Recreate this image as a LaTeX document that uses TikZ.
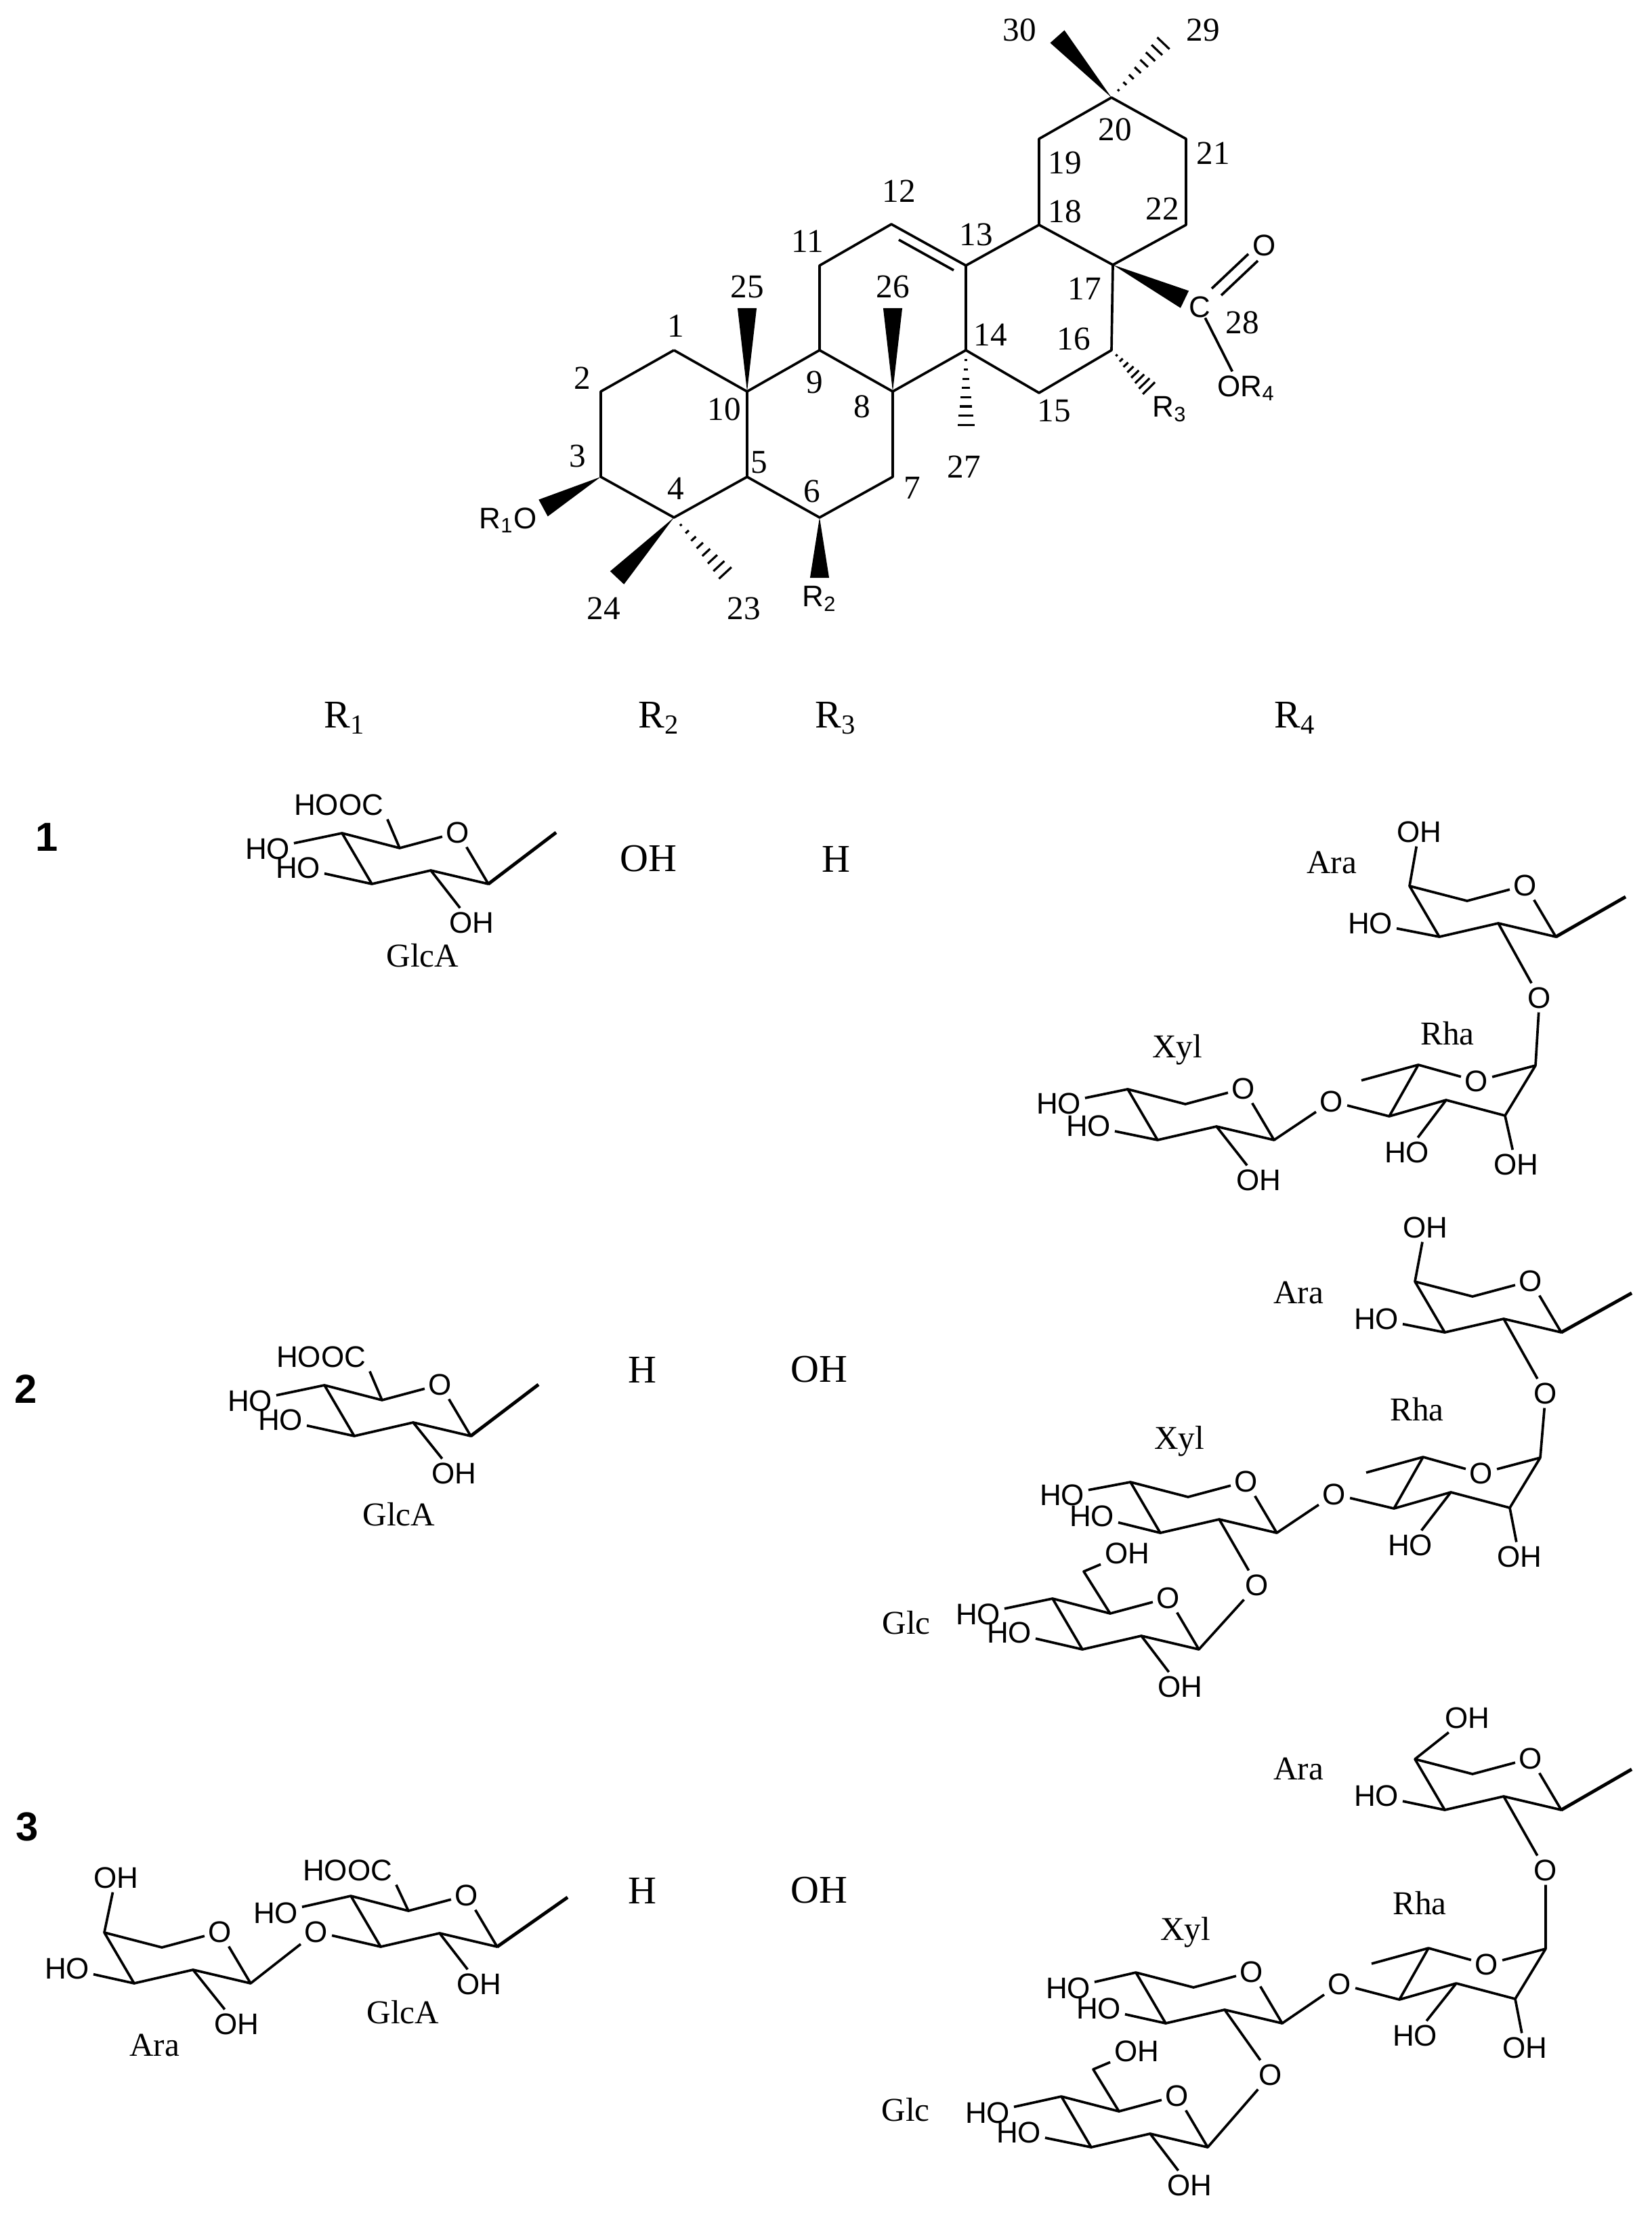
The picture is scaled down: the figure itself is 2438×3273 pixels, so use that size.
\documentclass[tikz,border=0pt]{standalone}
\usepackage{fontspec}
\setmainfont{Liberation Serif}
\newfontfamily\sansfam{Liberation Sans}
\usetikzlibrary{calc}
\tikzset{
	bond/.style = {line width=1.05pt, line join=round},
	tailbond/.style = {line width=1.4pt, line join=round},
	numlab/.style = {font=\fontsize{14}{16}\selectfont, inner sep=0pt},
	chemlab/.style = {font=\sansfam\fontsize{12.5}{14}\selectfont, inner sep=1.5pt},
	sugarlab/.style = {font=\fontsize{14}{16}\selectfont, inner sep=0pt},
	headlab/.style = {font=\fontsize{16.5}{18}\selectfont, inner sep=0pt},
	rowlab/.style = {font=\sansfam\bfseries\fontsize{17}{19}\selectfont, inner sep=0pt},
}
% solid and hashed stereo bonds
\newcommand{\wedgebond}[2]{\fill[black] (#1) -- ($(#2)!4pt!90:(#1)$) -- ($(#2)!4pt!-90:(#1)$) -- cycle;}
\newcommand{\hashbond}[2]{\foreach \t in {0.12,0.23,...,1.0}
	\draw[line width=0.9pt] ($(#1)!\t!(#2)!\t*4pt!90:(#2)$) -- ($(#1)!\t!(#2)!\t*4pt!-90:(#2)$);}
% chair rings, #2,#3 = anomeric carbon
\newcommand{\sugarring}[3]{
	\coordinate (#1c1) at (#2,#3);
	\coordinate (#1c2) at (#2-85,#3-20);
	\coordinate (#1c3) at (#2-172,#3);
	\coordinate (#1c4) at (#2-216,#3-75);
	\coordinate (#1c5) at (#2-131,#3-53);
	\node[chemlab] (#1o) at (#2-45,#3-76) {O};
	\draw[bond] (#1o) -- (#1c1) -- (#1c2) -- (#1c3) -- (#1c4) -- (#1c5) -- (#1o);
}
\newcommand{\rhamring}[3]{
	\coordinate (#1c1) at (#2,#3);
	\coordinate (#1c2) at (#2-45,#3+74);
	\coordinate (#1c3) at (#2-132,#3+51);
	\coordinate (#1c4) at (#2-216,#3+75);
	\coordinate (#1c5) at (#2-173,#3-1);
	\coordinate (#1me) at (#2-257,#3+22);
	\node[chemlab] (#1o) at (#2-87,#3+23) {O};
	\draw[bond] (#1o) -- (#1c1) -- (#1c2) -- (#1c3) -- (#1c4) -- (#1c5) -- (#1o);
	\draw[bond] (#1c5) -- (#1me);
}

\begin{document}
\begin{tikzpicture}[x=0.01cm, y=-0.01cm]
	\useasboundingbox (0,0) rectangle (2438,3273);
	%%%	Aglycone
	\foreach \n/\x/\y in {1/995/517, 2/887/578, 3/887/704, 4/995/764, 5/1103/704, 6/1210/764, 7/1318/704,
		8/1318/578, 9/1210/517, 10/1103/578, 11/1210/392, 12/1316/331, 13/1426/392, 14/1426/517,
		15/1534/580, 16/1641/517, 17/1643/391, 18/1534/332, 19/1534/205, 20/1641/144, 21/1751/205, 22/1751/332}
	\coordinate (c\n) at (\x,\y);
	\draw[bond] (c1) -- (c2) -- (c3) -- (c4) -- (c5) -- (c10) -- (c1);
	\draw[bond] (c5) -- (c6) -- (c7) -- (c8) -- (c9) -- (c10);
	\draw[bond] (c9) -- (c11) -- (c12) -- (c13) -- (c14) -- (c8);
	\draw[bond] (c14) -- (c15) -- (c16) -- (c17) -- (c18) -- (c13);
	\draw[bond] (c18) -- (c19) -- (c20) -- (c21) -- (c22) -- (c17);
	\coordinate (d12) at (1327,354);
	\coordinate (d13) at (1408,399);
	\draw[bond] (d12) -- (d13);
	%%%	Stereo bonds
	\coordinate (m30) at (1561,54);
	\coordinate (m29) at (1727,54);
	\coordinate (m25) at (1103,455);
	\coordinate (m26) at (1318,455);
	\coordinate (m27) at (1426,641);
	\coordinate (m24) at (911,853);
	\coordinate (m23) at (1080,856);
	\coordinate (mr2) at (1210,853);
	\coordinate (mr1) at (802,750);
	\coordinate (mr3) at (1703,580);
	\coordinate (mc28) at (1749,442);
	\wedgebond{c20}{m30}
	\hashbond{c20}{m29}
	\wedgebond{c10}{m25}
	\wedgebond{c8}{m26}
	\hashbond{c14}{m27}
	\wedgebond{c4}{m24}
	\hashbond{c4}{m23}
	\wedgebond{c6}{mr2}
	\wedgebond{c3}{mr1}
	\hashbond{c16}{mr3}
	\wedgebond{c17}{mc28}
	%%%	Carboxyl and R groups
	\node[chemlab, inner sep=0pt] (c28) at (1771,453) {C};
	\node[chemlab] (o28) at (1867,362) {O};
	\node[chemlab] (or4) at (1840,573) {OR\textsubscript{4}};
	\node[chemlab] (r3) at (1727,604) {R\textsubscript{3}};
	\node[chemlab] (r2) at (1210,884) {R\textsubscript{2}};
	\node[chemlab] (r1o) at (750,768) {R\textsubscript{1}O};
	\coordinate (e1a) at (1789,426);
	\coordinate (e1b) at (1843,375);
	\coordinate (e2a) at (1803,436);
	\coordinate (e2b) at (1857,385);
	\draw[bond] (e1a) -- (e1b);
	\draw[bond] (e2a) -- (e2b);
	\draw[bond] (c28) -- (or4.130);
	%%%	Numbering
	\foreach \n/\x/\y in {30/1505/44, 29/1776/44, 20/1646/191, 19/1572/240, 21/1791/226, 22/1716/308, 18/1572/312,
		12/1327/282, 11/1192/356, 13/1441/346, 17/1601/426, 25/1103/423, 26/1318/423, 28/1834/476, 14/1462/494,
		16/1585/500, 1/998/481, 2/860/558, 9/1203/564, 8/1273/600, 10/1069/604, 15/1556/606, 3/853/673, 5/1121/683,
		27/1423/689, 4/998/721, 6/1199/725, 7/1347/720, 24/891/898, 23/1098/898}
	\node[numlab] (n\n) at (\x,\y) {\n};
	%%%	Table heads
	\node[headlab] (h1) at (509,1060) {R\textsubscript{1}};
	\node[headlab] (h2) at (973,1060) {R\textsubscript{2}};
	\node[headlab] (h3) at (1234,1060) {R\textsubscript{3}};
	\node[headlab] (h4) at (1912,1060) {R\textsubscript{4}};
	\node[rowlab] (row1) at (69,1236) {1};
	\node[rowlab] (row2) at (38,2051) {2};
	\node[rowlab] (row3) at (40,2697) {3};
	\node[headlab] (r2a) at (957,1268) {OH};
	\node[headlab] (r3a) at (1234,1268) {H};
	\node[headlab] (r2b) at (948,2022) {H};
	\node[headlab] (r3b) at (1209,2022) {OH};
	\node[headlab] (r2c) at (948,2791) {H};
	\node[headlab] (r3c) at (1209,2791) {OH};
	%%%	Compound 1, R1
	\sugarring{ga}{721}{1305}
	\coordinate (gatail) at (821,1229);
	\draw[tailbond] (gac1) -- (gatail);
	\node[chemlab] (gacooh) at (500,1188) {HOOC};
	\node[chemlab] (gaho) at (395,1253) {HO};
	\node[chemlab] (gahob) at (440,1281) {HO};
	\node[chemlab] (gaoh) at (696,1362) {OH};
	\node[sugarlab] (ganame) at (624,1411) {GlcA};
	\draw[bond] (gac5) -- (gacooh.south east);
	\draw[bond] (gac4) -- (gaho);
	\draw[bond] (gac3) -- (gahob);
	\draw[bond] (gac2) -- (gaoh);
	%%%	Compound 2, R1
	\sugarring{gb}{695}{2120}
	\coordinate (gbtail) at (795,2044);
	\draw[tailbond] (gbc1) -- (gbtail);
	\node[chemlab] (gbcooh) at (474,2003) {HOOC};
	\node[chemlab] (gbho) at (369,2068) {HO};
	\node[chemlab] (gbhob) at (414,2096) {HO};
	\node[chemlab] (gboh) at (670,2175) {OH};
	\node[sugarlab] (gbname) at (589,2236) {GlcA};
	\draw[bond] (gbc5) -- (gbcooh.south east);
	\draw[bond] (gbc4) -- (gbho);
	\draw[bond] (gbc3) -- (gbhob);
	\draw[bond] (gbc2) -- (gboh);
	%%%	Compound 3, R1
	\sugarring{gc}{734}{2874}
	\sugarring{ac}{370}{2928}
	\coordinate (gctail) at (838,2801);
	\draw[tailbond] (gcc1) -- (gctail);
	\node[chemlab] (gccooh) at (513,2761) {HOOC};
	\node[chemlab] (gcho) at (407,2824) {HO};
	\node[chemlab] (gclink) at (467,2852) {O};
	\node[chemlab] (gcoh) at (707,2929) {OH};
	\node[sugarlab] (gcname) at (595,2971) {GlcA};
	\node[chemlab] (acoh) at (171,2772) {OH};
	\node[chemlab] (acho) at (99,2906) {HO};
	\node[chemlab] (acohb) at (349,2988) {OH};
	\node[sugarlab] (acname) at (228,3019) {Ara};
	\draw[bond] (gcc5) -- (gccooh.south east);
	\draw[bond] (gcc4) -- (gcho);
	\draw[bond] (gcc3) -- (gclink) -- (acc1);
	\draw[bond] (gcc2) -- (gcoh);
	\draw[bond] (acc4) -- (acoh);
	\draw[bond] (acc3) -- (acho);
	\draw[bond] (acc2) -- (acohb);
	%%%	Compound 1, R4
	\sugarring{ara}{2297}{1383}
	\rhamring{rha}{2267}{1573}
	\sugarring{xyl}{1881}{1683}
	\coordinate (aratail) at (2400,1324);
	\draw[tailbond] (arac1) -- (aratail);
	\node[chemlab] (araoh) at (2095,1228) {OH};
	\node[chemlab] (araho) at (2023,1363) {HO};
	\node[chemlab] (aralink) at (2273,1473) {O};
	\node[chemlab] (rhaho) at (2077,1701) {HO};
	\node[chemlab] (rhaoh) at (2238,1719) {OH};
	\node[chemlab] (rhalink) at (1966,1626) {O};
	\node[chemlab] (xylho) at (1563,1629) {HO};
	\node[chemlab] (xylhob) at (1607,1662) {HO};
	\node[chemlab] (xyloh) at (1858,1742) {OH};
	\node[sugarlab] (araname) at (1966,1273) {Ara};
	\node[sugarlab] (rhaname) at (2137,1526) {Rha};
	\node[sugarlab] (xylname) at (1738,1550) {Xyl};
	\draw[bond] (arac4) -- (araoh);
	\draw[bond] (arac3) -- (araho);
	\draw[bond] (arac2) -- (aralink) -- (rhac1);
	\draw[bond] (rhac3) -- (rhaho);
	\draw[bond] (rhac2) -- (rhaoh);
	\draw[bond] (rhac4) -- (rhalink) -- (xylc1);
	\draw[bond] (xylc4) -- (xylho);
	\draw[bond] (xylc3) -- (xylhob);
	\draw[bond] (xylc2) -- (xyloh);
	%%%	Compound 2, R4
	\sugarring{arb}{2305}{1967}
	\rhamring{rhb}{2274}{2152}
	\sugarring{xyb}{1885}{2263}
	\sugarring{glb}{1770}{2435}
	\coordinate (arbtail) at (2409,1909);
	\draw[tailbond] (arbc1) -- (arbtail);
	\node[chemlab] (arboh) at (2104,1812) {OH};
	\node[chemlab] (arbho) at (2032,1947) {HO};
	\node[chemlab] (arblink) at (2282,2057) {O};
	\node[chemlab] (rhbho) at (2082,2281) {HO};
	\node[chemlab] (rhboh) at (2243,2298) {OH};
	\node[chemlab] (rhblink) at (1970,2206) {O};
	\node[chemlab] (xybho) at (1568,2207) {HO};
	\node[chemlab] (xybhob) at (1612,2238) {HO};
	\node[chemlab] (xyblink) at (1856,2340) {O};
	\coordinate (glbch) at (1600,2320);
	\node[chemlab] (glboh) at (1664,2293) {OH};
	\node[chemlab] (glbho) at (1444,2383) {HO};
	\node[chemlab] (glbhob) at (1490,2410) {HO};
	\node[chemlab] (glbohb) at (1742,2490) {OH};
	\node[sugarlab] (arbname) at (1917,1908) {Ara};
	\node[sugarlab] (rhbname) at (2092,2081) {Rha};
	\node[sugarlab] (xybname) at (1741,2128) {Xyl};
	\node[sugarlab] (glbname) at (1338,2396) {Glc};
	\draw[bond] (arbc4) -- (arboh);
	\draw[bond] (arbc3) -- (arbho);
	\draw[bond] (arbc2) -- (arblink) -- (rhbc1);
	\draw[bond] (rhbc3) -- (rhbho);
	\draw[bond] (rhbc2) -- (rhboh);
	\draw[bond] (rhbc4) -- (rhblink) -- (xybc1);
	\draw[bond] (xybc4) -- (xybho);
	\draw[bond] (xybc3) -- (xybhob);
	\draw[bond] (xybc2) -- (xyblink) -- (glbc1);
	\draw[bond] (glbc5) -- (glbch) -- (glboh);
	\draw[bond] (glbc4) -- (glbho);
	\draw[bond] (glbc3) -- (glbhob);
	\draw[bond] (glbc2) -- (glbohb);
	%%%	Compound 3, R4
	\sugarring{arc}{2305}{2672}
	\rhamring{rhc}{2282}{2877}
	\sugarring{xyc}{1893}{2987}
	\sugarring{glc}{1783}{3170}
	\coordinate (arctail) at (2409,2612);
	\draw[tailbond] (arcc1) -- (arctail);
	\node[chemlab] (arcoh) at (2166,2536) {OH};
	\node[chemlab] (archo) at (2032,2651) {HO};
	\node[chemlab] (arclink) at (2282,2761) {O};
	\node[chemlab] (rhcho) at (2089,3005) {HO};
	\node[chemlab] (rhcoh) at (2251,3023) {OH};
	\node[chemlab] (rhclink) at (1978,2929) {O};
	\node[chemlab] (xycho) at (1577,2935) {HO};
	\node[chemlab] (xychob) at (1622,2965) {HO};
	\node[chemlab] (xyclink) at (1876,3063) {O};
	\coordinate (glcch) at (1614,3055);
	\node[chemlab] (glcoh) at (1678,3028) {OH};
	\node[chemlab] (glcho) at (1458,3119) {HO};
	\node[chemlab] (glchob) at (1504,3148) {HO};
	\node[chemlab] (glcohb) at (1756,3226) {OH};
	\node[sugarlab] (arcname) at (1917,2611) {Ara};
	\node[sugarlab] (rhcname) at (2096,2810) {Rha};
	\node[sugarlab] (xycname) at (1750,2853) {Xyl};
	\node[sugarlab] (glcname) at (1337,3115) {Glc};
	\draw[bond] (arcc4) -- (arcoh);
	\draw[bond] (arcc3) -- (archo);
	\draw[bond] (arcc2) -- (arclink) -- (rhcc1);
	\draw[bond] (rhcc3) -- (rhcho);
	\draw[bond] (rhcc2) -- (rhcoh);
	\draw[bond] (rhcc4) -- (rhclink) -- (xycc1);
	\draw[bond] (xycc4) -- (xycho);
	\draw[bond] (xycc3) -- (xychob);
	\draw[bond] (xycc2) -- (xyclink) -- (glcc1);
	\draw[bond] (glcc5) -- (glcch) -- (glcoh);
	\draw[bond] (glcc4) -- (glcho);
	\draw[bond] (glcc3) -- (glchob);
	\draw[bond] (glcc2) -- (glcohb);
\end{tikzpicture}
\end{document}
